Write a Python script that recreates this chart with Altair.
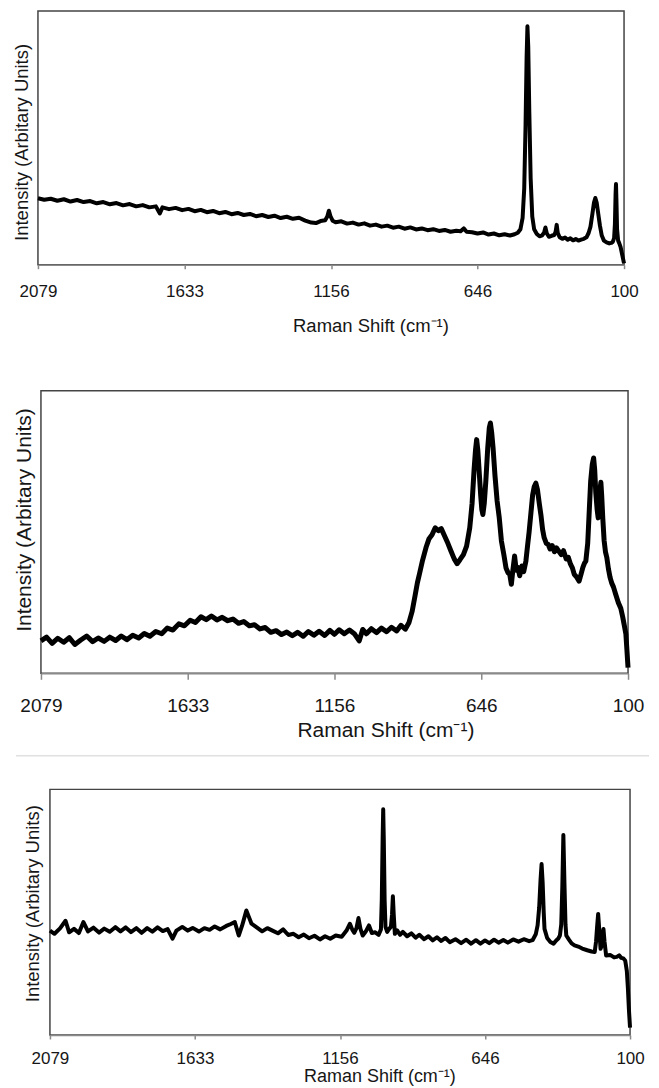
import altair as alt
import pandas as pd

FONT = "Liberation Sans"
TICKS = [2079, 1633, 1156, 646, 100]
X_TITLE = "Raman Shift (cm⁻¹)"
Y_TITLE = "Intensity (Arbitary Units)"

# (Raman shift, intensity %)
P1 = [(2079,26.2),(2060,25.6),(2040,26.0),(2020,25.2),(2000,25.8),(1980,24.9),(1960,25.5),(1940,24.7),(1920,25.1),(1900,24.2),
      (1880,24.7),(1860,23.8),(1840,24.3),(1820,23.4),(1800,23.9),(1780,23.0),(1760,23.5),(1740,22.6),(1720,23.0),(1708,20.2),
      (1700,22.6),(1680,21.9),(1660,22.4),(1640,21.5),(1620,22.0),(1600,21.1),(1580,21.6),(1560,20.7),(1540,21.2),(1520,20.3),
      (1500,20.8),(1480,19.9),(1460,20.4),(1440,19.6),(1420,20.0),(1400,19.1),(1380,19.6),(1360,18.8),(1340,19.3),(1320,18.4),
      (1300,18.9),(1280,18.1),(1260,18.5),(1240,17.4),(1220,16.6),(1205,16.4),(1190,17.2),(1175,17.5),(1168,19.0),(1163,21.3),
      (1158,19.2),(1150,17.3),(1140,16.7),(1120,17.1),(1100,16.2),(1080,16.6),(1060,15.8),(1040,16.3),(1020,15.4),(1000,15.8),
      (980,15.0),(960,15.4),(940,14.6),(920,15.0),(900,14.2),(880,14.7),(860,13.9),(840,14.3),(820,13.6),(800,14.0),
      (780,13.3),(760,13.7),(740,13.0),(720,13.4),(705,13.2),(694,14.3),(684,13.0),(665,12.8),(646,12.3),(625,12.7),
      (605,11.9),(585,12.3),(565,11.6),(545,12.0),(525,11.5),(508,12.0),(496,12.6),(486,14.0),(478,18.5),(472,30.0),
      (467,55.0),(463,82.0),(460,94.0),(457,86.0),(453,60.0),(448,34.0),(442,19.0),(435,14.0),(425,12.1),(415,11.2),
      (405,11.6),(398,12.6),(393,14.7),(388,12.4),(380,11.0),(370,11.4),(360,11.7),(355,13.0),(351,15.7),(347,12.5),
      (340,10.8),(330,10.2),(320,10.7),(310,9.8),(300,10.4),(290,9.6),(280,10.1),(270,9.5),(260,9.9),(250,10.2),
      (240,10.8),(232,12.5),(225,15.0),(218,20.0),(212,24.5),(207,26.3),(202,24.5),(196,20.0),(190,15.5),(183,11.5),
      (175,9.5),(165,8.8),(155,8.4),(147,8.6),(142,9.0),(137,10.5),(134,16.0),(131.5,28.0),(130,31.8),(128.5,26.0),
      (126,14.0),(122,9.5),(118,8.5),(113,7.0),(108,4.5),(104,2.5),(100,0.5)]

P2 = [(2079,11.5),(2062,12.8),(2045,10.6),(2028,12.4),(2010,11.0),(1993,12.6),(1976,10.2),(1958,11.8),(1940,13.2),(1922,11.2),
      (1905,12.5),(1887,11.3),(1870,12.8),(1852,11.6),(1835,13.2),(1818,11.9),(1800,13.5),(1782,12.5),(1765,14.1),(1748,13.1),
      (1730,14.8),(1712,14.0),(1695,16.0),(1678,15.3),(1660,17.5),(1643,16.8),(1625,18.8),(1608,18.0),(1590,20.0),(1573,19.0),
      (1556,20.3),(1538,18.9),(1521,19.8),(1503,18.6),(1486,19.2),(1468,17.7),(1451,18.3),(1433,16.8),(1416,17.2),(1398,15.7),
      (1381,16.2),(1363,14.5),(1346,15.1),(1328,13.7),(1311,14.6),(1293,13.3),(1276,14.5),(1258,13.1),(1241,14.8),(1223,13.5),
      (1206,14.9),(1188,13.4),(1171,15.2),(1156,13.8),(1140,15.4),(1122,14.0),(1104,15.3),(1086,13.9),(1070,11.5),(1058,15.5),
      (1045,14.0),(1028,15.8),(1010,14.4),(993,16.0),(975,14.7),(958,16.3),(940,15.0),(925,17.0),(910,15.6),(897,18.0),
      (886,22.0),(876,27.5),(868,32.0),(860,35.5),(850,40.0),(838,44.5),(828,47.5),(817,49.0),(806,51.5),(795,50.5),
      (785,51.2),(773,48.5),(762,46.0),(751,43.2),(740,40.5),(730,38.8),(720,40.2),(708,42.0),(697,45.0),(686,51.5),
      (678,60.0),(671,72.0),(666,79.0),(662,82.7),(658,79.0),(653,71.0),(648,63.0),(644,58.0),(640,56.2),(635,60.0),
      (629,68.0),(622,79.7),(616,87.0),(612,88.6),(607,85.0),(602,79.7),(595,70.0),(587,61.0),(579,55.0),(571,46.8),
      (562,42.0),(554,37.3),(546,35.5),(540,35.0),(534,31.5),(529,36.0),(522,41.5),(516,36.5),(510,37.5),(503,34.5),
      (495,38.0),(488,36.0),(480,39.7),(474,45.0),(468,50.0),(461,57.0),(455,63.0),(449,66.0),(443,67.3),(437,65.0),
      (430,60.0),(424,56.0),(418,51.0),(412,48.0),(404,46.0),(397,45.6),(390,44.0),(382,45.2),(374,43.0),(366,44.4),
      (356,43.0),(348,42.0),(340,43.4),(330,40.5),(322,41.0),(314,38.6),(307,37.3),(300,35.0),(291,34.0),(282,32.6),
      (275,35.0),(268,37.5),(262,39.0),(257,39.7),(250,46.0),(245,56.0),(239,68.0),(233,74.0),(228,76.2),(224,72.0),
      (220,64.0),(215,58.0),(211,55.0),(207,60.0),(203,66.0),(201,67.6),(198,63.0),(194,55.0),(189,47.0),(184,43.0),
      (179,41.0),(173,37.0),(167,34.0),(161,32.0),(154,30.5),(146,28.0),(136,25.0),(127,23.0),(120,20.0),(114,17.0),
      (108,13.9),(104,8.0),(100,2.0)]

P3 = [(2079,42.5),(2065,41.2),(2048,43.4),(2031,46.5),(2020,41.8),(2005,43.2),(1990,41.5),(1976,46.0),(1962,42.2),(1945,43.7),
      (1928,41.7),(1912,43.3),(1895,42.0),(1878,43.9),(1862,42.2),(1846,43.8),(1830,41.9),(1813,43.5),(1797,41.6),(1780,43.5),
      (1764,42.1),(1748,43.8),(1732,42.3),(1717,43.1),(1702,39.2),(1690,42.5),(1672,44.0),(1655,42.5),(1640,43.6),(1620,42.1),
      (1602,43.5),(1585,42.8),(1568,44.2),(1550,43.0),(1530,44.4),(1515,45.2),(1502,46.0),(1489,40.5),(1478,44.5),(1470,48.0),
      (1464,50.7),(1457,48.5),(1447,45.3),(1430,43.8),(1412,42.2),(1395,43.5),(1378,42.5),(1360,41.4),(1343,43.0),(1326,40.7),
      (1309,41.2),(1292,39.8),(1275,40.9),(1258,39.4),(1240,40.4),(1222,38.9),(1205,40.2),(1188,39.2),(1170,40.5),(1150,40.0),
      (1133,42.5),(1121,45.3),(1113,43.0),(1106,41.6),(1098,43.5),(1091,47.6),(1084,43.2),(1076,40.5),(1066,42.0),(1054,44.6),
      (1044,41.5),(1032,41.8),(1020,40.8),(1012,43.0),(1009,55.0),(1006,80.0),(1004,91.9),(1002,80.0),(999,55.0),(996,44.0),
      (990,42.0),(983,43.2),(977,44.0),(973,49.0),(970,56.5),(967,49.0),(963,41.2),(955,42.6),(945,40.8),(935,42.0),
      (920,40.2),(905,41.4),(890,39.6),(877,40.8),(860,39.0),(845,40.2),(830,38.5),(815,39.8),(800,38.3),(785,39.5),
      (770,37.8),(750,39.0),(730,37.4),(712,38.8),(695,37.2),(678,38.6),(662,37.2),(646,38.5),(630,37.4),(612,38.8),
      (595,37.6),(577,38.7),(560,37.6),(540,38.9),(520,38.0),(500,39.0),(480,38.2),(467,38.6),(455,41.0),(448,44.6),
      (442,52.0),(437,63.0),(433,69.6),(429,62.0),(425,50.0),(422,43.2),(412,39.5),(400,37.9),(388,37.2),(378,38.5),
      (370,39.3),(364,40.5),(359,45.0),(355,60.0),(351,81.4),(347,62.0),(343,45.0),(340,40.5),(330,38.8),(320,37.3),
      (309,36.5),(295,36.0),(280,35.2),(261,34.5),(245,34.0),(233,33.8),(228,38.0),(224,44.0),(220,49.3),(216,43.0),
      (211,35.1),(206,36.5),(203,40.5),(200,43.2),(196,38.0),(190,32.4),(175,32.6),(160,31.6),(150,31.8),(141,32.4),
      (133,31.4),(125,31.2),(118,30.2),(112,26.0),(108,19.0),(104,10.0),(100,3.0)]


def panel(points, w, h, sw, tick_fs, lab_pad, tick_size, xt_fs, xt_pad, xt_x,
          yt_fs, yt_pad, yt_y):
    df = pd.DataFrame(points, columns=["shift", "intensity"])
    rng = [0, w / 4, w / 2, 3 * w / 4, w]
    x = alt.X("shift:Q",
              scale=alt.Scale(domain=TICKS, range=rng, nice=False, zero=False),
              axis=alt.Axis(values=TICKS, format="d", grid=False,
                            labelFlush=False, labelOverlap=False,
                            domainColor="#8a8a8a", domainWidth=1.5,
                            tickColor="#8a8a8a", tickWidth=1.5, tickSize=tick_size,
                            labelPadding=lab_pad, labelFontSize=tick_fs, labelFont=FONT,
                            labelColor="#161616",
                            title=X_TITLE, titleFont=FONT, titleFontSize=xt_fs,
                            titleFontWeight="normal", titleColor="#161616",
                            titlePadding=xt_pad, titleX=xt_x))
    y = alt.Y("intensity:Q",
              scale=alt.Scale(domain=[0, 100], nice=False, zero=False),
              axis=alt.Axis(labels=False, ticks=False, domain=False, grid=False,
                            minExtent=0, maxExtent=0,
                            title=Y_TITLE, titleFont=FONT, titleFontSize=yt_fs,
                            titleFontWeight="normal", titleColor="#161616",
                            titlePadding=yt_pad, titleY=yt_y))
    line = alt.Chart(df).mark_line(color="black", strokeWidth=sw,
                                   strokeJoin="round").encode(x=x, y=y)
    return line.properties(width=w, height=h)


def spacer(w, h):
    return alt.Chart(alt.Data(values=[{"s": 0}])).mark_point(
        opacity=0, size=0
    ).properties(width=w, height=h,
                 view=alt.ViewBackground(stroke="transparent", strokeWidth=0))


p1 = panel(P1, 587, 254, 4, 17, 15, 4, 18.5, 17, 333, 18.5, 6, 131)
line2 = panel(P2, 588, 283, 5, 19, 17, 6, 21, 4.5, 345, 21, 6, 129)
p3 = panel(P3, 581, 246, 4, 17, 11.5, 4, 18, 1.5, 330, 18.5, 7.3, 114)

sep = alt.Chart(alt.Data(values=[{"k": 0}])).mark_rule(
    color="#e0e0e0", strokeWidth=1.5
).encode(x=alt.value(-25), x2=alt.value(609), y=alt.value(365.5))
p2 = alt.layer(line2, sep)

row1 = alt.hconcat(spacer(30, 347.5), p1, spacing=0, bounds="flush")
row2 = alt.hconcat(spacer(33, 1), p2, spacing=0, bounds="flush")
row3 = alt.hconcat(spacer(42, 1), p3, spacing=0, bounds="flush")

chart = alt.vconcat(row1, row2, row3, spacing=31.25).properties(
    padding={"left": 0, "top": 1.25, "right": 0, "bottom": 0},
    background="white",
).configure_view(stroke="#444444", strokeWidth=1.5)

chart.save("out.html", embed_options={"renderer": "svg", "actions": False})
